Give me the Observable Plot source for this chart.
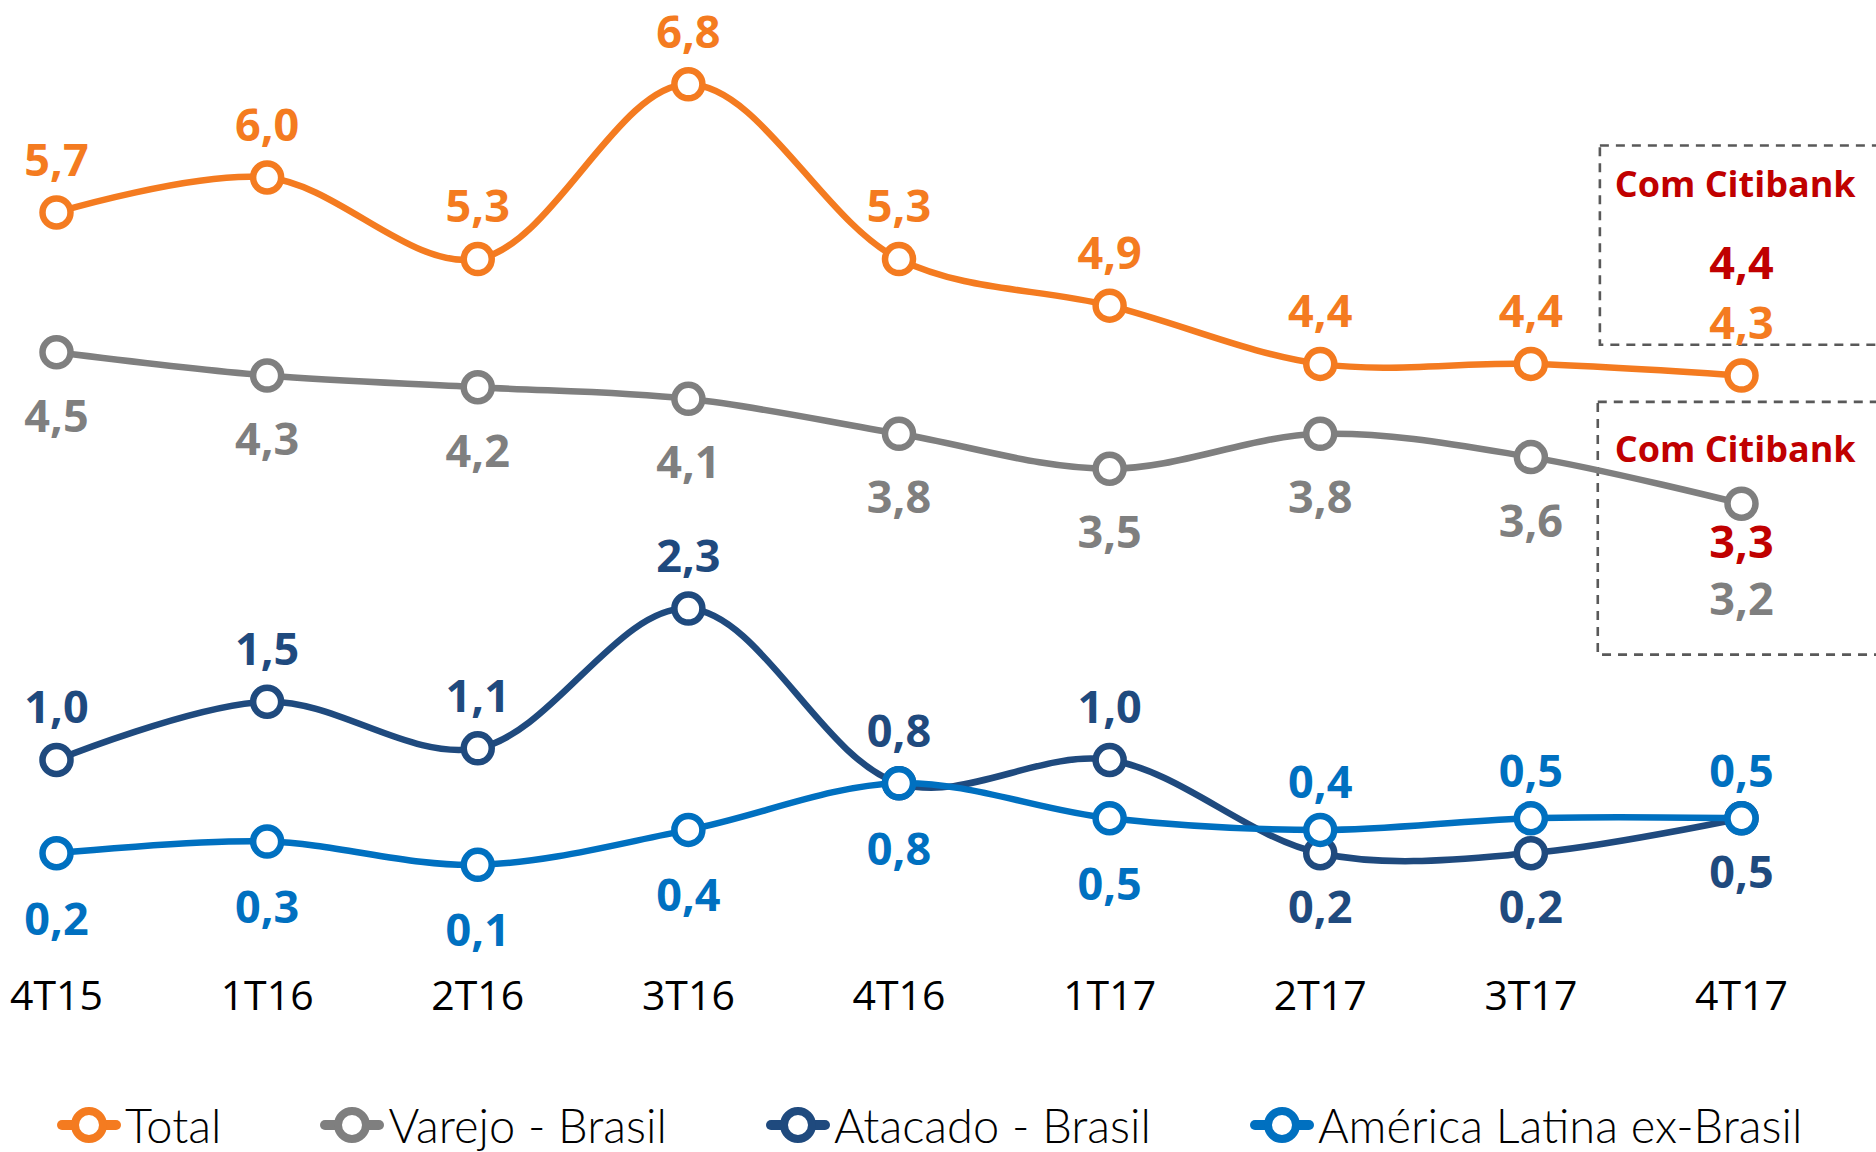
<!DOCTYPE html>
<html>
<head>
<meta charset="utf-8">
<script src="https://cdn.jsdelivr.net/npm/d3@7"></script>
<script src="https://cdn.jsdelivr.net/npm/@observablehq/plot@0.6"></script>
<style>
  html, body { margin: 0; padding: 0; background: #fff; overflow: hidden; width: 1876px; height: 1152px; }
  #chart { position: absolute; left: 0; top: 0; }
  #legend { position: absolute; left: 57px; top: 1101px; height: 48px; display: flex; align-items: center;
            font-family: "Lato", "Open Sans", sans-serif; font-weight: 300; font-size: 47px; line-height: 48px; color: #000; }
  .item { display: flex; align-items: center; white-space: nowrap; height: 48px; }
  .item svg { margin-right: 4px; }
</style>
</head>
<body>
<div id="chart"></div>
<div id="legend"></div>
<script>
// ---- data ----
const quarters = ["4T15","1T16","2T16","3T16","4T16","1T17","2T17","3T17","4T17"];
const total          = [5.7, 6.0, 5.3, 6.8, 5.3, 4.9, 4.4, 4.4, 4.3];
const varejo         = [4.5, 4.3, 4.2, 4.1, 3.8, 3.5, 3.8, 3.6, 3.2];
const atacado        = [1.0, 1.5, 1.1, 2.3, 0.8, 1.0, 0.2, 0.2, 0.5];
const americaLatina  = [0.2, 0.3, 0.1, 0.4, 0.8, 0.5, 0.4, 0.5, 0.5];
const seriesNames  = ["Total", "Varejo - Brasil", "Atacado - Brasil", "América Latina ex-Brasil"];
const seriesColors = ["#F47B20", "#7F7F7F", "#1F4A7E", "#0070C0"];
// label side per point (true = above the point)
const totalAbove   = [true, true, true, true, true, true, true, true, true];
const varejoAbove  = [false, false, false, false, false, false, false, false, false];
const atacadoAbove = [true, true, true, true, true, true, false, false, false];
const latinaAbove  = [false, false, false, false, false, false, true, true, true];
// "Com Citibank" annotation
const citiText = "Com Citibank";
const citiTotal = 4.4;
const citiVarejo = 3.3;
const citiColor = "#C00000";
const citiBoxes = [
  {x1: 7.33, x2: 9.6, y1: 4.56, y2: 6.27},
  {x1: 7.32, x2: 9.6, y1: 1.90, y2: 4.07}
];
const citiTitles = [{y: 5.93}, {y: 3.66}];

// ---- build table ----
const fmt = v => d3.format(".1f")(v).replace(".", ",");
const seriesValues = [total, varejo, atacado, americaLatina];
const seriesAbove = [totalAbove, varejoAbove, atacadoAbove, latinaAbove];
const rows = [];
seriesNames.forEach((name, s) => {
  seriesValues[s].forEach((v, i) => {
    rows.push({series: name, s, i, value: v, label: fmt(v), above: seriesAbove[s][i]});
  });
});

// label offsets (px) per series: [above, below]
const offsets = [[-51, 65], [-51, 65], [-51, 55], [-46, 67]];

const marks = [];
// dashed boxes
marks.push(Plot.rect(citiBoxes, {x1: "x1", x2: "x2", y1: "y1", y2: "y2", fill: "none",
  stroke: "#595959", strokeWidth: 2.6, strokeDasharray: "9,7"}));
marks.push(Plot.axisX({ticks: d3.range(quarters.length), tickFormat: i => quarters[i], tickSize: 0, tickPadding: 0,
  fontSize: 41, fill: "#000", fontFamily: "Open Sans", label: null}));

seriesNames.forEach((name, s) => {
  const data = rows.filter(r => r.s === s);
  marks.push(Plot.line(data, {x: "i", y: "value", stroke: seriesColors[s], strokeWidth: 6.5, curve: "catmull-rom"}));
  marks.push(Plot.dot(data, {x: "i", y: "value", r: 14, fill: "white", stroke: seriesColors[s], strokeWidth: 6.5}));
});
seriesNames.forEach((name, s) => {
  const data = rows.filter(r => r.s === s);
  const common = {x: "i", y: "value", text: "label", fill: seriesColors[s], fontSize: 45, fontWeight: "bold",
                  fontFamily: "Open Sans"};
  marks.push(Plot.text(data.filter(r => r.above), {...common, dy: offsets[s][0]}));
  // last Varejo label moves down to make room for the Citibank value
  marks.push(Plot.text(data.filter(r => !r.above && !(s === 1 && r.i === 8)), {...common, dy: offsets[s][1]}));
  if (s === 1) marks.push(Plot.text(data.filter(r => r.i === 8), {...common, dy: 97}));
});
// Citibank values and titles
const last = quarters.length - 1;
marks.push(Plot.text([{i: last, value: total[last], label: fmt(citiTotal)}], {x: "i", y: "value", text: "label", dy: -111,
  fill: citiColor, fontSize: 45, fontWeight: "bold", fontFamily: "Open Sans"}));
marks.push(Plot.text([{i: last, value: varejo[last], label: fmt(citiVarejo)}], {x: "i", y: "value", text: "label", dy: 40,
  fill: citiColor, fontSize: 45, fontWeight: "bold", fontFamily: "Open Sans"}));
marks.push(Plot.text(citiTitles, {x: () => last - 0.03, y: "y", text: () => citiText, fill: citiColor, fontSize: 36,
  fontWeight: "bold", fontFamily: "Open Sans"}));

const chart = Plot.plot({
  width: 1876,
  height: 1060,
  marginLeft: 0, marginRight: 0, marginTop: 0, marginBottom: 80,
  style: {fontFamily: "Open Sans", background: "white", overflow: "hidden"},
  x: {type: "linear", domain: [0, 8], range: [56, 1741], axis: null},
  y: {domain: [0, 7], range: [876, 876 - 7 * 116.5], axis: null},
  marks
});
document.getElementById("chart").appendChild(chart);

// legend
const legendGaps = [0, 99, 99, 99];
const legend = document.getElementById("legend");
seriesNames.forEach((name, s) => {
  const item = document.createElement("div");
  item.className = "item";
  item.style.marginLeft = legendGaps[s] + "px";
  item.innerHTML = `<svg width="64" height="40" viewBox="0 0 64 40">
      <line x1="5" y1="20" x2="59" y2="20" stroke="${seriesColors[s]}" stroke-width="10" stroke-linecap="round"/>
      <circle cx="32" cy="20" r="14" fill="white" stroke="${seriesColors[s]}" stroke-width="8"/></svg><span>${name}</span>`;
  legend.appendChild(item);
});
</script>
</body>
</html>
